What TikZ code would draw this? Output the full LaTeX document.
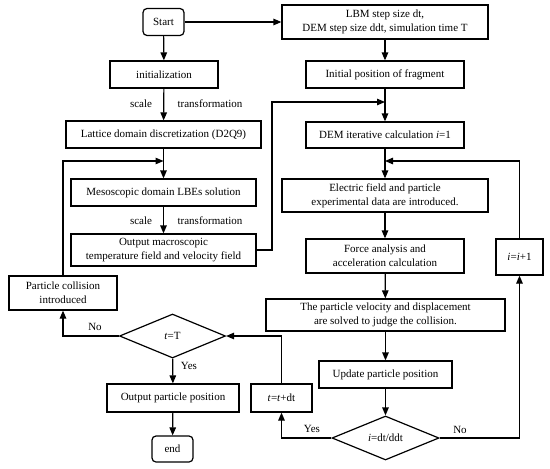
\documentclass[tikz,border=0pt]{standalone}
\usepackage{fontspec}
\setmainfont{Liberation Serif}
\usetikzlibrary{arrows.meta,shapes.geometric}
\begin{document}
\begin{tikzpicture}[x=1pt,y=-1pt,
  line width=1.2pt,
  box/.style={draw,inner sep=0pt,align=center,font=\fontsize{11}{14}\selectfont},
  term/.style={box,rounded corners=4pt},
  dec/.style={draw,diamond,inner sep=0pt,font=\fontsize{11}{14}\selectfont},
  lbl/.style={font=\fontsize{11}{14}\selectfont,inner sep=0pt},
  arr/.style={-{Triangle[length=8pt,width=6.5pt]}},
  ln/.style={}]
\useasboundingbox (0,0) rectangle (550,469);
% left column
\node[term,minimum width=41,minimum height=27] (start) at (163.5,22) {Start};
\node[box,minimum width=108,minimum height=27] (init) at (164,74.5) {initialization};
\node[box,minimum width=195,minimum height=27] (lat) at (163.5,134.5) {Lattice domain discretization (D2Q9)};
\node[box,minimum width=185,minimum height=27] (meso) at (163.5,192.5) {Mesoscopic domain LBEs solution};
\node[box,minimum width=185,minimum height=32] (outmac) at (163.5,250) {Output macroscopic\\temperature field and velocity field};
\node[box,minimum width=108,minimum height=34] (coll) at (63,293) {Particle collision\\introduced};
\node[dec,minimum width=106,minimum height=44] (tT) at (172.5,336) {\textit{t}=T};
\node[box,minimum width=132,minimum height=28] (outpos) at (173,398) {Output particle position};
\node[term,minimum width=41,minimum height=26] (end) at (172.5,449) {end};
% right column
\node[box,minimum width=206,minimum height=34] (lbm) at (385,22) {LBM step size dt,\\DEM step size ddt, simulation time T};
\node[box,minimum width=158,minimum height=27] (ipos) at (385,74.5) {Initial position of fragment};
\node[box,minimum width=158,minimum height=26] (dem) at (385,135) {DEM iterative calculation \textit{i}=1};
\node[box,minimum width=206,minimum height=33] (elec) at (385,195.5) {Electric field and particle\\experimental data are introduced.};
\node[box,minimum width=158,minimum height=34] (force) at (385,256) {Force analysis and\\acceleration calculation};
\node[box,minimum width=239,minimum height=32] (pv) at (385.5,315) {The particle velocity and displacement\\are solved to judge the collision.};
\node[box,minimum width=133,minimum height=27] (upd) at (385.5,374.5) {Update particle position};
\node[dec,minimum width=107,minimum height=44] (idd) at (385.5,438) {\textit{i}=dt/ddt};
\node[box,minimum width=61,minimum height=28] (tdt) at (281.5,398) {\textit{t}=\textit{t}+dt};
\node[box,minimum width=47,minimum height=36] (inc) at (519.5,257) {\textit{i}=\textit{i}+1};
% junctions
\coordinate (j1) at (163.5,161);
\coordinate (j2) at (385,102);
\coordinate (j3) at (385,161);
\coordinate (c1) at (63,161);
\coordinate (c2a) at (272,250);
\coordinate (c2b) at (272,102);
\coordinate (c3) at (519.5,161);
\coordinate (c4) at (281.5,336);
\coordinate (c5) at (63,336);
\coordinate (c6) at (281.5,438);
\coordinate (c7) at (519.5,438);
% arrows
\draw[arr] (start) -- (lbm);
\draw[arr] (start) -- (init);
\draw[arr] (init) -- (lat);
\draw[arr] (lat) -- (meso);
\draw[arr] (meso) -- (outmac);
\draw[arr] (tT) -- (outpos);
\draw[arr] (outpos) -- (end);
\draw[arr] (lbm) -- (ipos);
\draw[arr] (ipos) -- (dem);
\draw[arr] (dem) -- (elec);
\draw[arr] (elec) -- (force);
\draw[arr] (force) -- (pv);
\draw[arr] (pv) -- (upd);
\draw[arr] (upd) -- (idd);
% loops
\draw[arr] (coll.north) -- (c1) -- (j1);
\draw[arr] (outmac.east) -- (c2a) -- (c2b) -- (j2);
\draw[arr] (inc.north) -- (c3) -- (j3);
\draw[arr] (tdt.north) -- (c4) -- (tT.east);
\draw[arr] (tT.west) -- (c5) -- (coll.south);
\draw[arr] (idd.west) -- (c6) -- (tdt.south);
\draw[arr] (idd.east) -- (c7) -- (inc.south);
% labels
\node[lbl] (s1) at (141,104) {scale};
\node[lbl] (t1) at (210,104) {transformation};
\node[lbl] (s2) at (141,221) {scale};
\node[lbl] (t2) at (210,221) {transformation};
\node[lbl] (no1) at (95,327) {No};
\node[lbl] (yes1) at (189,366) {Yes};
\node[lbl] (yes2) at (312,429) {Yes};
\node[lbl] (no2) at (460,430) {No};
\end{tikzpicture}
\end{document}
